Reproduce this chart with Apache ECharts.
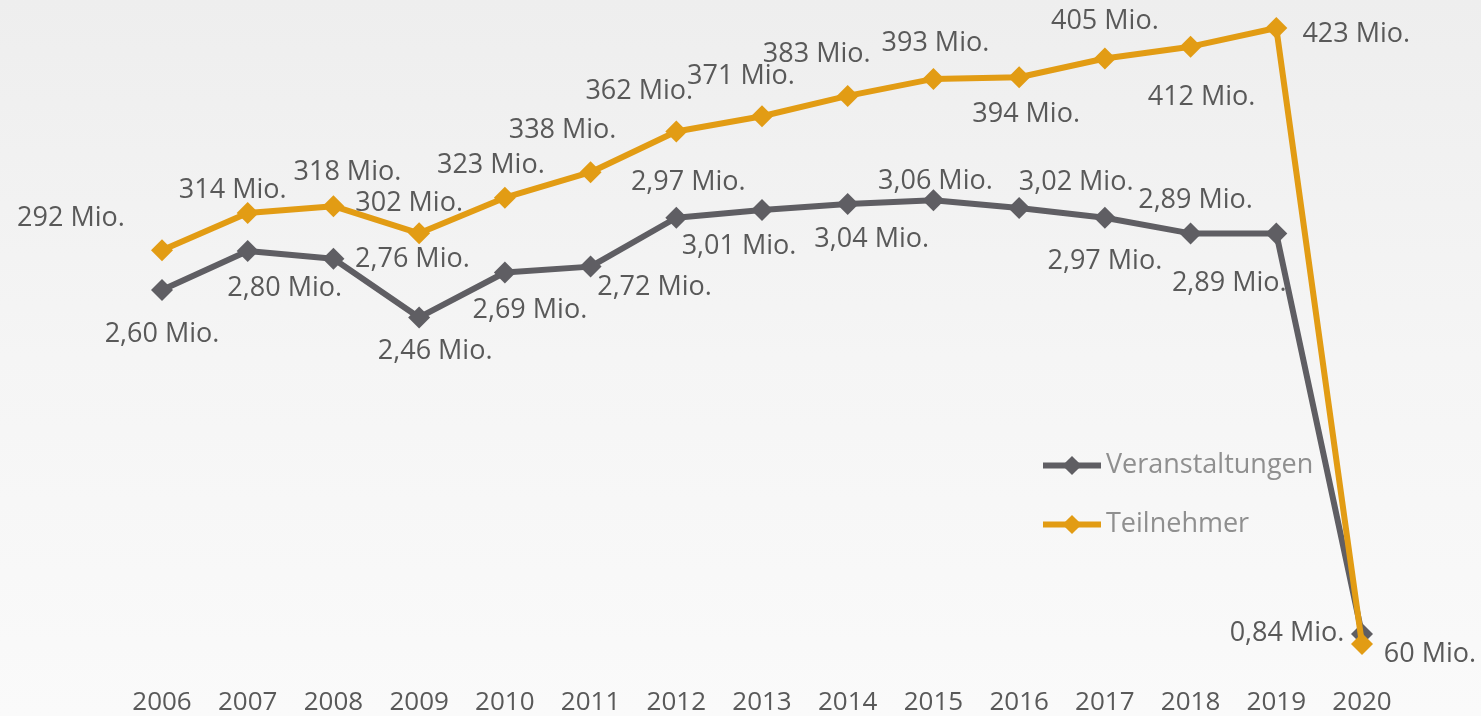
<!DOCTYPE html>
<html>
<head>
<meta charset="utf-8">
<script src="https://cdn.jsdelivr.net/npm/echarts@6/dist/echarts.min.js"></script>
<style>
html,body{margin:0;padding:0;}
#c{width:1481px;height:716px;}
</style>
</head>
<body>
<div id="c"></div>
<script>
const years = ['2006','2007','2008','2009','2010','2011','2012','2013','2014','2015','2016','2017','2018','2019','2020'];
const veranstaltungen = [2.60, 2.80, 2.76, 2.46, 2.69, 2.72, 2.97, 3.01, 3.04, 3.06, 3.02, 2.97, 2.89, 2.89, 0.84];
const teilnehmer = [292, 314, 318, 302, 323, 338, 362, 371, 383, 393, 394, 405, 412, 423, 60];

// label placement (offset of label centre from point), layout only
const vOffsets = [[0,44],[37,37],[79,1],[16,34],[25,38],[64,21],[12,-35],[-23,36],[24,35],[2,-19],[57,-26],[0,44],[5,-33],[-47,50],[-75,-1]];
const tOffsets = [[-91,-32],[-15,-23],[14,-34],[-10,-30],[-14,-32],[-28,-42],[-37,-40],[-21,-40],[-31,-42],[2,-36],[7,37],[0,-37],[11,51],[80,6],[68,10]];

const FONT = '"Open Sans", "Noto Sans", sans-serif';
const GRAY = '#5f5e63';
const ORANGE = '#e29c14';
const TXT = '#595959';

function fmtV(v){ return v.toFixed(2).replace('.', ',') + ' Mio.'; }
function fmtT(v){ return v + ' Mio.'; }

const vData = veranstaltungen.map((v,i)=>({value:v,label:{offset:vOffsets[i]}}));
const tData = teilnehmer.map((v,i)=>({value:v,label:{offset:tOffsets[i]}}));

const chart = echarts.init(document.getElementById('c'), null, {renderer:'canvas'});
chart.setOption({
  animation:false,
  backgroundColor:{
    type:'linear', x:0, y:0, x2:0, y2:1,
    colorStops:[{offset:0,color:'#eeeeee'},{offset:0.5,color:'#f5f5f5'},{offset:1,color:'#fafafa'}]
  },
  textStyle:{fontFamily:FONT},
  grid:{left:162, right:119, top:28, bottom:72, containLabel:false},
  legend:{
    orient:'vertical', left:1040, top:452, padding:0,
    itemWidth:58, itemHeight:24, itemGap:32,
    lineStyle:{width:6},
    textStyle:{fontFamily:FONT, fontSize:27, color:'#8f8f8f'},
    data:['Veranstaltungen','Teilnehmer']
  },
  xAxis:{
    type:'category', data:years, boundaryGap:false,
    axisLine:{show:false}, axisTick:{show:false}, splitLine:{show:false},
    axisLabel:{fontFamily:FONT, fontSize:26, color:TXT, margin:46}
  },
  yAxis:[
    {type:'value', min:0.789, max:3.941, show:false, splitLine:{show:false}},
    {type:'value', min:60, max:423, show:false, splitLine:{show:false}}
  ],
  series:[
    {
      name:'Veranstaltungen', type:'line', yAxisIndex:0, data:vData,
      symbol:'diamond', symbolSize:22,
      lineStyle:{color:GRAY, width:6},
      itemStyle:{color:GRAY},
      label:{show:true, position:'inside', align:'center', verticalAlign:'middle',
             fontFamily:FONT, fontSize:27, color:TXT, formatter:p=>fmtV(p.value)},
      z:2
    },
    {
      name:'Teilnehmer', type:'line', yAxisIndex:1, data:tData,
      symbol:'diamond', symbolSize:22,
      lineStyle:{color:ORANGE, width:6},
      itemStyle:{color:ORANGE},
      label:{show:true, position:'inside', align:'center', verticalAlign:'middle',
             fontFamily:FONT, fontSize:27, color:TXT, formatter:p=>fmtT(p.value)},
      z:3
    }
  ]
});
</script>
</body>
</html>
